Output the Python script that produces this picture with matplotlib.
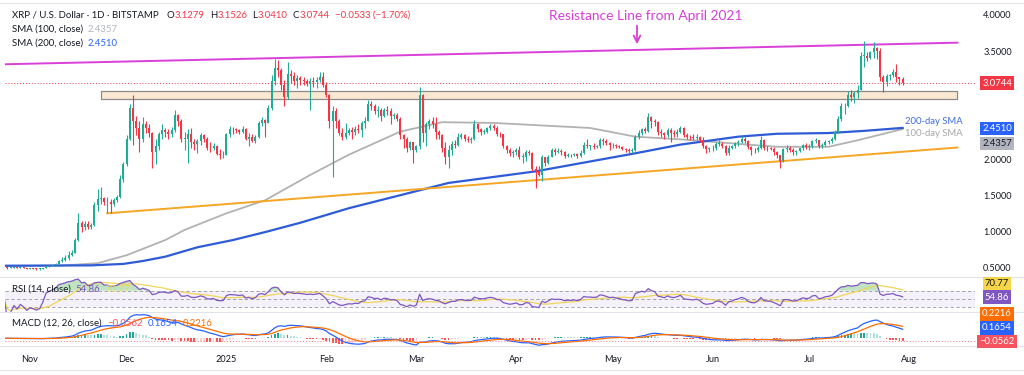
import numpy as np
import pandas as pd
import matplotlib
matplotlib.use("Agg")
import matplotlib.pyplot as plt
import matplotlib.dates as mdates
from matplotlib.lines import Line2D
from matplotlib.transforms import blended_transform_factory as btf

plt.rcParams['font.family'] = ['Lato', 'DejaVu Sans']

# ---------------- data ----------------
start_date = '2024-10-24'
first_open = 0.525
closes = [
    0.530, 0.515, 0.518, 0.522, 0.516, 0.520, 0.515, 0.505,  # Oct
    0.508, 0.505, 0.500, 0.502, 0.512, 0.538, 0.548, 0.556, 0.570, 0.615, 0.628, 0.655, 0.700, 0.725, 0.905,
    1.130, 1.080, 1.125, 1.075, 1.105, 1.380, 1.470, 1.480, 1.420, 1.430, 1.400, 1.450, 1.500, 1.740, 1.950,  # Nov
    2.30, 2.72, 2.55, 2.45, 2.30, 2.50, 2.45, 2.38, 2.12, 2.20, 2.36, 2.42, 2.40, 2.36, 2.42, 2.63, 2.55, 2.30,
    2.30, 2.36, 2.25, 2.23, 2.27, 2.35, 2.30, 2.18, 2.17, 2.20, 2.09, 2.07, 2.08,  # Dec
    2.36, 2.44, 2.43, 2.42, 2.40, 2.43, 2.30, 2.33, 2.27, 2.32, 2.52, 2.56, 2.52, 2.73, 3.10, 3.28, 3.25, 3.05,
    2.88, 3.20, 3.17, 3.10, 3.14, 3.12, 3.10, 3.07, 3.10, 3.08, 3.12, 3.16, 3.05,  # Jan
    2.90, 2.55, 2.68, 2.55, 2.38, 2.33, 2.38, 2.42, 2.40, 2.44, 2.42, 2.52, 2.55, 2.78, 2.75, 2.68, 2.70, 2.62,
    2.70, 2.68, 2.62, 2.63, 2.58, 2.35, 2.30, 2.18, 2.25, 2.15,  # Feb
    2.20, 2.90, 2.38, 2.50, 2.55, 2.50, 2.40, 2.35, 2.17, 2.05, 2.15, 2.23, 2.22, 2.33, 2.35, 2.30, 2.28, 2.30,
    2.50, 2.43, 2.40, 2.40, 2.45, 2.48, 2.45, 2.37, 2.36, 2.20, 2.15, 2.10, 2.12,  # Mar
    2.15, 2.05, 2.05, 2.12, 2.10, 1.88, 1.85, 1.80, 2.05, 1.97, 2.05, 2.15, 2.12, 2.13, 2.12, 2.06, 2.08, 2.07,
    2.09, 2.06, 2.10, 2.22, 2.20, 2.20, 2.19, 2.20, 2.28, 2.27, 2.24, 2.21,  # Apr
    2.22, 2.20, 2.19, 2.16, 2.15, 2.13, 2.14, 2.33, 2.38, 2.43, 2.41, 2.60, 2.55, 2.53, 2.40, 2.38, 2.35, 2.42,
    2.38, 2.37, 2.40, 2.45, 2.35, 2.33, 2.32, 2.31, 2.33, 2.29, 2.20, 2.16, 2.17,  # May
    2.18, 2.23, 2.23, 2.20, 2.10, 2.18, 2.20, 2.24, 2.26, 2.30, 2.27, 2.19, 2.15, 2.14, 2.18, 2.28, 2.18, 2.17,
    2.16, 2.12, 2.07, 2.00, 2.16, 2.17, 2.15, 2.12, 2.13, 2.17, 2.21, 2.19,  # Jun
    2.20, 2.27, 2.28, 2.20, 2.22, 2.26, 2.27, 2.30, 2.40, 2.58, 2.75, 2.76, 2.90, 2.88, 2.93, 2.98, 3.45, 3.45,
    3.42, 3.50, 3.55, 3.52, 3.15, 3.08, 3.17, 3.18, 3.22, 3.15, 3.1277, 3.0744,  # Jul
]
highs = [
    0.540, 0.532, 0.522, 0.528, 0.525, 0.530, 0.524, 0.520,
    0.520, 0.515, 0.510, 0.510, 0.520, 0.550, 0.560, 0.568, 0.582, 0.630, 0.660, 0.690, 0.745, 0.760, 0.925,
    1.270, 1.170, 1.160, 1.170, 1.140, 1.430, 1.600, 1.630, 1.500, 1.490, 1.470, 1.480, 1.530, 1.800, 1.980,
    2.35, 2.78, 2.90, 2.62, 2.55, 2.60, 2.55, 2.50, 2.40, 2.30, 2.40, 2.50, 2.45, 2.44, 2.46, 2.70, 2.65, 2.58,
    2.40, 2.43, 2.45, 2.30, 2.30, 2.38, 2.36, 2.33, 2.25, 2.24, 2.22, 2.16, 2.13,
    2.38, 2.48, 2.46, 2.45, 2.44, 2.48, 2.45, 2.38, 2.36, 2.35, 2.55, 2.60, 2.58, 2.77, 3.18, 3.40, 3.39, 3.28,
    3.12, 3.36, 3.25, 3.22, 3.18, 3.17, 3.15, 3.13, 3.14, 3.15, 3.15, 3.22, 3.22,
    3.08, 2.92, 2.75, 2.72, 2.58, 2.45, 2.52, 2.45, 2.46, 2.48, 2.50, 2.55, 2.60, 2.84, 2.82, 2.78, 2.76, 2.72,
    2.73, 2.75, 2.72, 2.66, 2.66, 2.60, 2.36, 2.33, 2.27, 2.25,
    2.22, 3.02, 2.92, 2.53, 2.58, 2.60, 2.60, 2.42, 2.36, 2.25, 2.22, 2.27, 2.28, 2.38, 2.38, 2.37, 2.34, 2.33,
    2.56, 2.52, 2.45, 2.43, 2.47, 2.50, 2.50, 2.48, 2.40, 2.37, 2.22, 2.17, 2.15,
    2.18, 2.20, 2.10, 2.15, 2.14, 2.12, 1.92, 1.92, 2.08, 2.05, 2.08, 2.18, 2.18, 2.18, 2.16, 2.13, 2.10, 2.09,
    2.10, 2.10, 2.14, 2.25, 2.30, 2.22, 2.24, 2.22, 2.31, 2.31, 2.30, 2.26,
    2.24, 2.23, 2.21, 2.20, 2.18, 2.17, 2.17, 2.35, 2.42, 2.45, 2.47, 2.66, 2.62, 2.58, 2.55, 2.43, 2.40, 2.45,
    2.45, 2.42, 2.44, 2.48, 2.47, 2.38, 2.35, 2.36, 2.36, 2.34, 2.32, 2.22, 2.19,
    2.21, 2.26, 2.28, 2.25, 2.22, 2.21, 2.22, 2.26, 2.29, 2.34, 2.33, 2.28, 2.20, 2.18, 2.20, 2.34, 2.30, 2.20,
    2.19, 2.19, 2.13, 2.08, 2.18, 2.21, 2.20, 2.17, 2.15, 2.18, 2.23, 2.24,
    2.23, 2.29, 2.31, 2.28, 2.24, 2.28, 2.29, 2.32, 2.42, 2.62, 2.80, 2.80, 2.96, 2.98, 2.96, 3.05, 3.50, 3.66,
    3.50, 3.52, 3.64, 3.57, 3.55, 3.18, 3.20, 3.20, 3.27, 3.33, 3.16, 3.1526,
]
lows = [
    0.520, 0.500, 0.508, 0.512, 0.508, 0.511, 0.508, 0.498,
    0.495, 0.498, 0.488, 0.490, 0.500, 0.508, 0.530, 0.540, 0.552, 0.565, 0.592, 0.605, 0.630, 0.680, 0.715,
    0.880, 1.010, 1.040, 1.050, 1.050, 1.100, 1.300, 1.400, 1.380, 1.280, 1.270, 1.370, 1.420, 1.480, 1.700,
    1.93, 2.28, 2.22, 2.35, 2.12, 2.25, 2.38, 2.33, 1.90, 1.95, 2.15, 2.30, 2.33, 2.30, 2.32, 2.40, 2.48, 2.25,
    2.15, 1.96, 2.18, 2.15, 2.10, 2.22, 2.25, 2.15, 2.12, 2.15, 2.07, 2.02, 2.03,
    2.07, 2.33, 2.37, 2.38, 2.36, 2.38, 2.28, 2.20, 2.25, 2.24, 2.31, 2.48, 2.32, 2.52, 2.70, 3.05, 3.15, 2.98,
    2.75, 2.85, 3.07, 3.05, 3.00, 3.05, 3.05, 3.03, 2.70, 3.02, 3.00, 3.08, 3.02,
    2.88, 2.45, 1.77, 2.45, 2.35, 2.28, 2.30, 2.35, 2.30, 2.35, 2.38, 2.33, 2.45, 2.55, 2.70, 2.65, 2.60, 2.55,
    2.60, 2.63, 2.50, 2.58, 2.55, 2.30, 2.18, 2.12, 2.15, 1.97,
    2.12, 2.16, 2.25, 2.20, 2.43, 2.45, 2.30, 2.30, 2.12, 1.95, 1.90, 2.08, 2.17, 2.20, 2.30, 2.27, 2.25, 2.24,
    2.28, 2.40, 2.35, 2.37, 2.38, 2.42, 2.42, 2.34, 2.32, 2.17, 2.10, 2.06, 2.05,
    2.08, 2.02, 1.97, 2.00, 2.07, 1.85, 1.62, 1.78, 1.72, 1.92, 1.95, 2.05, 2.08, 2.10, 2.08, 2.03, 2.05, 2.05,
    2.06, 2.04, 2.05, 2.09, 2.18, 2.14, 2.16, 2.17, 2.18, 2.22, 2.21, 2.15,
    2.18, 2.18, 2.17, 2.14, 2.12, 2.08, 2.10, 2.13, 2.30, 2.35, 2.38, 2.40, 2.45, 2.48, 2.35, 2.33, 2.30, 2.33,
    2.25, 2.33, 2.32, 2.38, 2.33, 2.30, 2.28, 2.28, 2.28, 2.25, 2.17, 2.10, 2.12,
    2.13, 2.14, 2.20, 2.17, 2.07, 2.08, 2.16, 2.18, 2.20, 2.24, 2.24, 2.16, 2.08, 2.11, 2.12, 2.16, 2.15, 2.13,
    2.14, 2.08, 2.04, 1.90, 1.98, 2.12, 2.12, 2.08, 2.08, 2.12, 2.15, 2.16,
    2.15, 2.18, 2.24, 2.18, 2.18, 2.20, 2.23, 2.24, 2.28, 2.38, 2.55, 2.65, 2.74, 2.82, 2.80, 2.86, 2.97, 3.30,
    3.38, 3.40, 3.42, 3.40, 3.10, 2.95, 3.03, 3.12, 3.15, 3.08, 3.05, 3.0410,
]

# moving averages (date, value)
sma100_dates = ['2024-10-24', '2024-11-10', '2024-11-22', '2024-12-01', '2024-12-13', '2024-12-19',
                '2025-01-01', '2025-01-13', '2025-01-27', '2025-02-08', '2025-02-24', '2025-03-09',
                '2025-03-25', '2025-04-24', '2025-05-08', '2025-05-23', '2025-06-09', '2025-06-21',
                '2025-07-07', '2025-07-16', '2025-07-30']
sma100_vals = [0.54, 0.545, 0.58, 0.69, 0.90, 1.04, 1.27, 1.45, 1.80, 2.08, 2.40, 2.53,
               2.52, 2.45, 2.33, 2.29, 2.23, 2.19, 2.19, 2.28, 2.4357]
sma200_dates = ['2024-10-24', '2024-11-20', '2024-11-30', '2024-12-06', '2024-12-13', '2024-12-23',
                '2025-01-03', '2025-01-13', '2025-01-24', '2025-02-08', '2025-03-11', '2025-04-07',
                '2025-05-08', '2025-05-22', '2025-06-09', '2025-06-21', '2025-07-07', '2025-07-18',
                '2025-07-30']
sma200_vals = [0.545, 0.55, 0.57, 0.61, 0.67, 0.80, 0.90, 1.01, 1.14, 1.34, 1.69, 1.85,
               2.10, 2.22, 2.33, 2.37, 2.38, 2.41, 2.451]

# drawn objects
resist_dates = ['2024-10-23', '2025-08-16']
resist_vals = [3.33, 3.63]
support_dates = ['2024-11-25', '2025-08-16']
support_vals = [1.27, 2.18]
zone_dates = ['2024-11-23', '2025-08-16']
zone_vals = [2.85, 2.96]

month_ticks = ['2024-11-01', '2024-12-01', '2025-01-01', '2025-02-01', '2025-03-01', '2025-04-01',
               '2025-05-01', '2025-06-01', '2025-07-01', '2025-08-01']
month_labels = ['Nov', 'Dec', '2025', 'Feb', 'Mar', 'Apr', 'May', 'Jun', 'Jul', 'Aug']
price_ticks = [4.0, 3.5, 2.0, 1.5, 1.0, 0.5]

# ---------------- derived ----------------
dates = pd.date_range(start_date, periods=len(closes), freq='D')
x = mdates.date2num(dates)
c = np.array(closes)
o = np.r_[first_open, c[:-1]]
h = np.maximum(np.array(highs), np.maximum(o, c))
l = np.minimum(np.array(lows), np.minimum(o, c))

cs = pd.Series(c)
delta = cs.diff().fillna(0)
gain = delta.clip(lower=0).ewm(alpha=1 / 14, adjust=False).mean()
loss = (-delta.clip(upper=0)).ewm(alpha=1 / 14, adjust=False).mean()
rsi = (100 - 100 / (1 + gain / loss.replace(0, np.nan))).fillna(50)
rsi_ma = rsi.rolling(14, min_periods=1).mean()
ema12 = cs.ewm(span=12, adjust=False).mean()
ema26 = cs.ewm(span=26, adjust=False).mean()
macd = ema12 - ema26
signal = macd.ewm(span=9, adjust=False).mean()
hist = macd - signal

# ---------------- figure ----------------
W, H = 1024, 375
fig = plt.figure(figsize=(W / 100, H / 100), dpi=100)
fig.patch.set_facecolor('white')

def fx(px):
    return px / W

def fy(py):
    return 1 - py / H

left, right = 5, 975
ax = fig.add_axes([fx(left), fy(277), fx(right - left), fy(5) - fy(277)])
ax_r = fig.add_axes([fx(left), fy(312), fx(right - left), fy(277) - fy(312)], sharex=ax)
ax_m = fig.add_axes([fx(left), fy(346), fx(right - left), fy(312) - fy(346)], sharex=ax)

nov1 = mdates.date2num(pd.Timestamp('2024-11-01'))
xmin = nov1 + (left - 30) / 3.22
xmax = nov1 + (right - 30) / 3.22
for a in (ax, ax_r, ax_m):
    a.set_xlim(xmin, xmax)
    a.axis('off')

ax.set_ylim(0.389, 4.151)
ax_r.set_ylim(18.7, 103)
ax_m.set_ylim(-0.143, 0.487)

UP, DN = '#22ab94', '#f23645'
cols = np.where(c >= o, UP, DN)

# candles
ax.vlines(x, l, h, colors=cols, lw=0.8, zorder=4)
body_b = np.minimum(o, c)
body_h = np.maximum(np.abs(c - o), 0.008)
ax.bar(x, body_h, bottom=body_b, width=0.62, color=cols, zorder=5, linewidth=0)

# SMAs
ax.plot(mdates.date2num(pd.to_datetime(sma100_dates)), sma100_vals, color='#b2b2b2', lw=1.3, zorder=3)
ax.plot(mdates.date2num(pd.to_datetime(sma200_dates)), sma200_vals, color='#2e5bd8', lw=1.6, zorder=3)

# resistance, support, zone
ax.plot(mdates.date2num(pd.to_datetime(resist_dates)), resist_vals, color='#d93fd9', lw=1.4, zorder=3)
ax.plot(mdates.date2num(pd.to_datetime(support_dates)), support_vals, color='#f5a623', lw=1.4, zorder=3)
zx = mdates.date2num(pd.to_datetime(zone_dates))
ax.fill_between(zx, zone_vals[0], zone_vals[1], facecolor='#fbe8d3', edgecolor='#8c8c8c', lw=0.9, zorder=2)

# last price dotted line
ax.axhline(c[-1], color='#f23645', lw=0.7, ls=(0, (1, 2)), zorder=2)

# resistance annotation
fig.text(fx(646), fy(16), 'Resistance Line from April 2021', color='#d63fd6', fontsize=9.9,
         ha='center', va='center')
ax_an = fig.add_axes([0, 0, 1, 1], facecolor='none')
ax_an.set_xlim(0, W); ax_an.set_ylim(H, 0); ax_an.axis('off')
ax_an.annotate('', xy=(637, 47), xytext=(637, 23),
               arrowprops=dict(arrowstyle='->', color='#d63fd6', lw=1.3, mutation_scale=12))

fig.text(fx(905), fy(121), '200-day SMA', color='#3d6be0', fontsize=6.8, ha='left', va='center')
fig.text(fx(905), fy(133), '100-day SMA', color='#a6a6a6', fontsize=6.8, ha='left', va='center')

# right price axis
tr = btf(ax.transAxes, ax.transData)
for p in price_ticks:
    ax.text(1.0085, p, f'{p:.4f}', transform=tr, fontsize=6.6, color='#131722', va='center',
            ha='left', clip_on=False, zorder=1)

def price_label(y_px, text, bg, fg='white'):
    fig.text(fx(997), fy(y_px), text, fontsize=6.8, color=fg, ha='center', va='center',
             bbox=dict(boxstyle='square,pad=0.22', fc=bg, ec='none'), zorder=20)

price_label(83, '3.0744', '#f23645')
price_label(128.5, '2.4510', '#2962ff')
price_label(143.5, '2.4357', '#b2b5be', fg='#131722')

# RSI panel
ax_r.axhspan(30, 70, color='#7e57c2', alpha=0.08, lw=0)
for lv in (70, 50, 30):
    ax_r.axhline(lv, color='#9598a1', lw=0.6, ls=(0, (4, 3)))
ax_r.fill_between(x, rsi, 70, where=rsi > 70, interpolate=True, color='#4caf50', alpha=0.35, lw=0)
ax_r.plot(x, rsi_ma, color='#f0d55a', lw=0.9)
ax_r.plot(x, rsi, color='#7e57c2', lw=0.9)
price_label(284, '70.77', '#f7d548', fg='#131722')
price_label(297, '54.86', '#7e57c2')

# MACD panel
hc = []
for i, v in enumerate(hist):
    prev = hist.iloc[i - 1] if i > 0 else 0
    if v >= 0:
        hc.append('#26a69a' if v >= prev else '#b2dfdb')
    else:
        hc.append('#ff5252' if v < prev else '#ffcdd2')
ax_m.bar(x, hist, width=0.55, color=hc, lw=0)
ax_m.plot(x, macd, color='#2962ff', lw=0.9)
ax_m.plot(x, signal, color='#ff6d00', lw=0.9)
ax_m.axhline(hist.iloc[-1], color='#f77c80', lw=0.7, ls=(0, (1, 2)))
price_label(314, '0.2216', '#ff6d00')
price_label(328, '0.1654', '#2962ff')
price_label(341.5, '\u22120.0562', '#f7525f')

# month labels
trm = btf(ax_m.transData, fig.transFigure)
for d, lab in zip(month_ticks, month_labels):
    ax_m.text(mdates.date2num(pd.Timestamp(d)), fy(359), lab, transform=trm, fontsize=6.6,
              color='#131722', ha='center', va='center', clip_on=False)

# separators
for yy in (277, 312, 346):
    fig.add_artist(Line2D([fx(0), fx(1024)], [fy(yy), fy(yy)], color='#e0e3eb', lw=0.8))
fig.add_artist(Line2D([0, 1], [fy(3), fy(3)], color='#e6e6e6', lw=0.8))
fig.add_artist(Line2D([0, 1], [fy(370), fy(370)], color='#e6e6e6', lw=0.8))

# header texts drawn piece by piece
renderer = fig.canvas.get_renderer()

def runs(x0, y0, pieces, size=6.9):
    xx = x0
    for s, col, gap in pieces:
        t = fig.text(fx(xx), fy(y0), s, color=col, fontsize=size, ha='left', va='center', zorder=30)
        xx += t.get_window_extent(renderer).width + gap

DK = '#131722'
RD = '#f23645'
runs(12, 15, [('XRP / U.S. Dollar \u00b7 1D \u00b7 BITSTAMP', DK, 8),
              ('O', DK, 0.5), ('3.1279', RD, 5), ('H', DK, 0.5), ('3.1526', RD, 5),
              ('L', DK, 0.5), ('3.0410', RD, 5), ('C', DK, 0.5), ('3.0744', RD, 5),
              ('\u22120.0533 (\u22121.70%)', RD, 0)])
runs(12, 29, [('SMA (100, close)', DK, 5), ('2.4357', '#b2b5be', 0)])
runs(12, 43, [('SMA (200, close)', DK, 5), ('2.4510', '#2962ff', 0)])
runs(12, 289, [('RSI (14, close)', DK, 5), ('54.86', '#7e57c2', 5), ('70.77', '#f0d55a', 0)])
runs(12, 323, [('MACD (12, 26, close)', DK, 6), ('\u22120.0562', '#f7525f', 5),
               ('0.1654', '#2962ff', 5), ('0.2216', '#ff6d00', 0)])

fig.savefig('out.png', dpi=100, facecolor='white')
